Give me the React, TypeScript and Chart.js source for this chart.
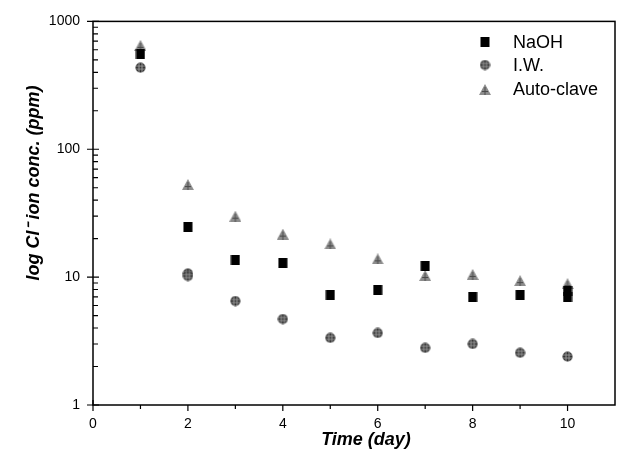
import { useEffect, useRef } from 'react';
import { Chart, registerables } from 'chart.js';

Chart.register(...registerables);

const seriesNames = ['NaOH', 'I.W.', 'Auto-clave'];
const naohDays = [1, 2, 3, 4, 5, 6, 7, 8, 9, 10, 10];
const naohValues = [560, 24.5, 13.6, 13, 7.3, 8.0, 12.3, 6.95, 7.3, 7.8, 7.0];
const iwDays = [1, 2, 2, 3, 4, 5, 6, 7, 8, 9, 10];
const iwValues = [435, 10.7, 10.2, 6.5, 4.7, 3.35, 3.66, 2.8, 3.0, 2.56, 2.39];
const autoDays = [1, 2, 3, 4, 5, 6, 7, 8, 9, 10];
const autoValues = [650, 53, 30, 21.7, 18.2, 13.9, 10.3, 10.5, 9.4, 8.9];
const xTicks = [0, 2, 4, 6, 8, 10];
const yTicks = [1, 10, 100, 1000];
const xTitle = 'Time (day)';
const yTitle = 'log Cl\u207B ion conc. (ppm)';

const FONT = '"Liberation Sans", Arial, sans-serif';

function makeCanvas(w: number, h: number) {
  const c = document.createElement('canvas');
  c.width = w;
  c.height = h;
  return c;
}

function squareMarker() {
  const c = makeCanvas(10, 10);
  const ctx = c.getContext('2d')!;
  ctx.fillStyle = '#000';
  ctx.fillRect(0.5, 0, 9, 10);
  return c;
}

function circleMarker() {
  const c = makeCanvas(11, 11);
  const ctx = c.getContext('2d')!;
  ctx.beginPath();
  ctx.arc(5.5, 5.5, 5, 0, Math.PI * 2);
  ctx.fillStyle = '#2e2e2e';
  ctx.fill();
  ctx.save();
  ctx.clip();
  ctx.strokeStyle = '#9a9a9a';
  ctx.lineWidth = 1;
  ctx.beginPath();
  ctx.moveTo(4, 0); ctx.lineTo(4, 11);
  ctx.moveTo(7, 0); ctx.lineTo(7, 11);
  ctx.moveTo(0, 4); ctx.lineTo(11, 4);
  ctx.moveTo(0, 7); ctx.lineTo(11, 7);
  ctx.stroke();
  ctx.restore();
  return c;
}

function triangleMarker() {
  const c = makeCanvas(12, 11);
  const ctx = c.getContext('2d')!;
  ctx.beginPath();
  ctx.moveTo(6, 0);
  ctx.lineTo(12, 11);
  ctx.lineTo(0, 11);
  ctx.closePath();
  ctx.fillStyle = '#8c8c8c';
  ctx.fill();
  ctx.strokeStyle = '#4a4a4a';
  ctx.lineWidth = 1;
  ctx.beginPath();
  ctx.moveTo(6, 3); ctx.lineTo(6, 11);
  ctx.moveTo(3, 7.5); ctx.lineTo(9, 7.5);
  ctx.stroke();
  return c;
}

export default function App() {
  const ref = useRef<HTMLCanvasElement | null>(null);

  useEffect(() => {
    document.body.style.margin = '0';
    const markers = [squareMarker(), circleMarker(), triangleMarker()];
    const toPts = (xs: number[], ys: number[]) => xs.map((x, i) => ({ x, y: ys[i] }));

    const framePlugin = {
      id: 'frame',
      afterDraw(chart: any) {
        const { ctx, chartArea: a, scales } = chart;
        const xs = scales.x;
        const ys = scales.y;
        ctx.save();
        ctx.strokeStyle = '#000';
        ctx.lineWidth = 1.5;
        ctx.strokeRect(a.left, a.top, a.right - a.left, a.bottom - a.top);
        ctx.lineWidth = 1.2;
        ctx.beginPath();
        for (let d = 1; d <= 1000; d *= 10) {
          const y = ys.getPixelForValue(d);
          ctx.moveTo(a.left - 6, y);
          ctx.lineTo(a.left + 6, y);
          if (d < 1000) {
            for (let m = 2; m <= 9; m++) {
              const yy = ys.getPixelForValue(d * m);
              ctx.moveTo(a.left, yy);
              ctx.lineTo(a.left + 5, yy);
            }
          }
        }
        for (let v = 0; v <= 10; v++) {
          const x = xs.getPixelForValue(v);
          const even = v % 2 === 0;
          ctx.moveTo(x, a.bottom + (even ? 6 : 4));
          ctx.lineTo(x, v === 0 ? a.bottom - 5 : a.bottom);
        }
        ctx.stroke();

        ctx.fillStyle = '#000';
        ctx.font = `italic bold 18px ${FONT}`;
        ctx.textAlign = 'center';
        ctx.textBaseline = 'middle';
        ctx.fillText(xTitle, 366, 440);
        ctx.save();
        ctx.translate(34, 183);
        ctx.rotate(-Math.PI / 2);
        ctx.fillText(yTitle, 0, 0);
        ctx.restore();

        ctx.font = `18px ${FONT}`;
        ctx.textAlign = 'left';
        const ly = [42, 65, 89.5];
        seriesNames.forEach((name, i) => {
          const m = markers[i];
          ctx.drawImage(m, 485 - m.width / 2, ly[i] - m.height / 2);
          ctx.fillText(name, 513, ly[i] + 1);
        });
        ctx.restore();
      },
    };

    const chart = new Chart(ref.current!, {
      type: 'scatter',
      data: {
        datasets: [
          { label: seriesNames[0], data: toPts(naohDays, naohValues), pointStyle: markers[0] as any, backgroundColor: '#000', borderColor: '#000' },
          { label: seriesNames[1], data: toPts(iwDays, iwValues), pointStyle: markers[1] as any, backgroundColor: '#333', borderColor: '#333' },
          { label: seriesNames[2], data: toPts(autoDays, autoValues), pointStyle: markers[2] as any, backgroundColor: '#888', borderColor: '#888' },
        ],
      },
      options: {
        animation: false,
        responsive: false,
        layout: { padding: { top: 17, right: 4, left: 0, bottom: 0 } },
        plugins: { legend: { display: false }, tooltip: { enabled: false } },
        scales: {
          x: {
            type: 'linear',
            min: 0,
            max: 11,
            afterBuildTicks: (s: any) => { s.ticks = xTicks.map((v) => ({ value: v })); },
            afterFit: (s: any) => { s.height = 54; },
            grid: { display: false, drawTicks: false },
            border: { display: false },
            ticks: { padding: 11, color: '#000', maxRotation: 0, autoSkip: false, font: { family: FONT, size: 14 }, callback: (v: any) => String(v) },
          },
          y: {
            type: 'logarithmic',
            min: 1,
            max: 1000,
            afterBuildTicks: (s: any) => { s.ticks = yTicks.map((v) => ({ value: v })); },
            afterFit: (s: any) => { s.width = 93; },
            grid: { display: false, drawTicks: false },
            border: { display: false },
            ticks: { padding: 13, color: '#000', autoSkip: false, font: { family: FONT, size: 14 }, callback: (v: any) => String(v) },
          },
        },
      },
      plugins: [framePlugin],
    });
    return () => chart.destroy();
  }, []);

  return (
    <div style={{ width: 620, height: 459 }}>
      <canvas ref={ref} width={620} height={459} style={{ display: 'block' }} />
    </div>
  );
}
